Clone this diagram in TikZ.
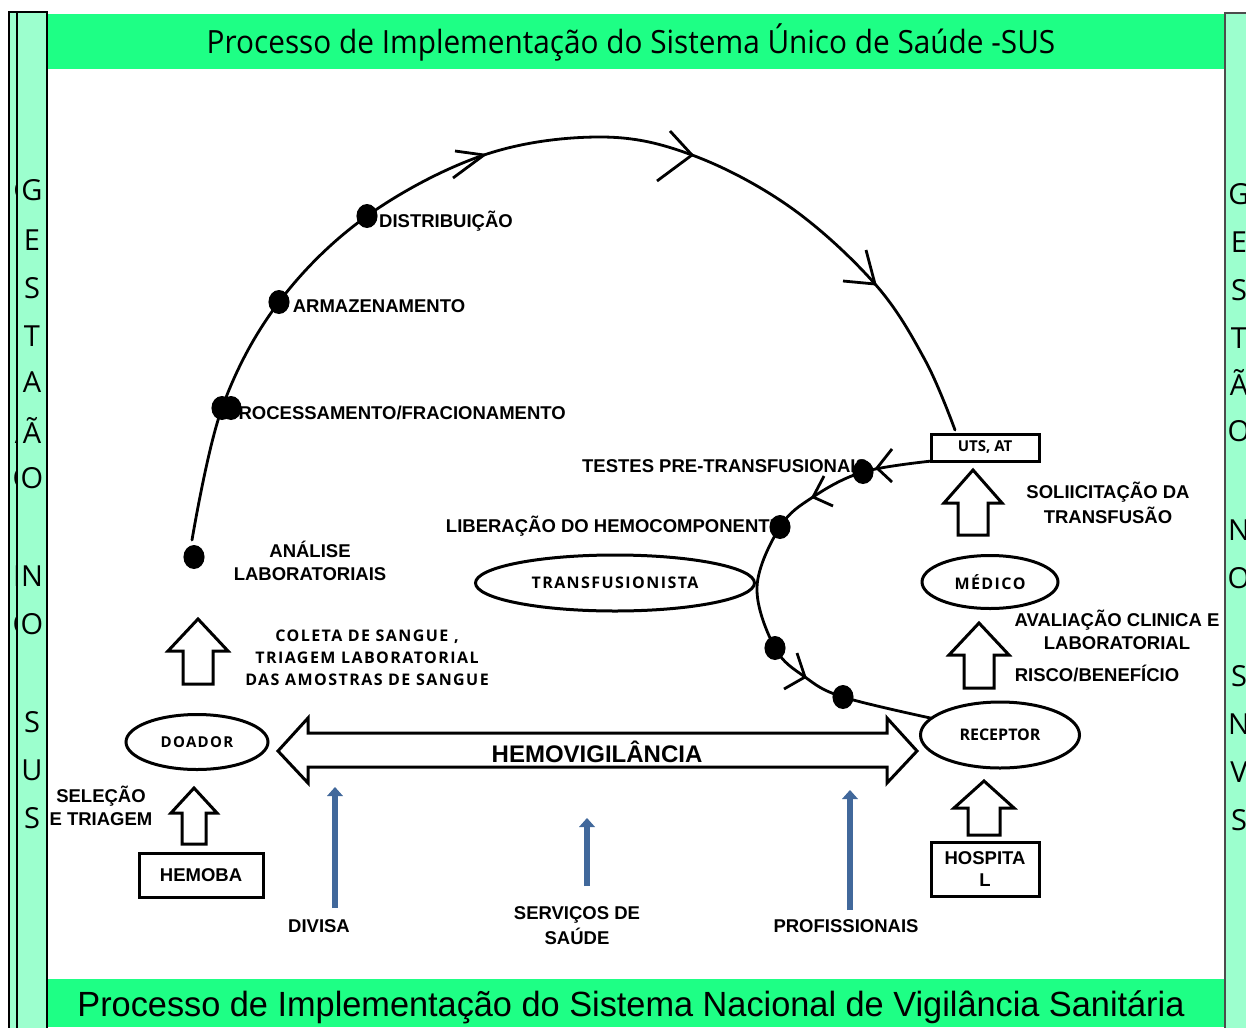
\documentclass[tikz,border=0pt]{standalone}
\usepackage{fontspec}
\setmainfont{Liberation Sans}
\newfontfamily\opn{Open Sans}
\newfontfamily\spc[LetterSpace=9]{Open Sans}
\usetikzlibrary{calc}
\definecolor{band}{HTML}{1EFF85}
\definecolor{lite}{HTML}{9CFFCE}
\definecolor{steel}{HTML}{41689B}
\newcommand\fs[1]{\fontsize{#1}{#1}\selectfont}
\newcommand\blockup[7]{% name, tip x, tip y, head base y, head half w, shaft half w, bottom y
  \coordinate (#1) at (#2,#3);
  \draw[blockline] (#1) -- ++(#5,#4-#3) -- ++(-#5+#6,0) -- ($(#1)+(#6,#7-#3)$) -- ($(#1)+(-#6,#7-#3)$) -- ($(#1)+(-#6,#4-#3)$) -- ($(#1)+(-#5,#4-#3)$) -- cycle;}
\newcommand\chev[7]{% name, tip, barb1, barb2
  \coordinate (#1) at (#2,#3);\coordinate (#1a) at (#4,#5);\coordinate (#1b) at (#6,#7);
  \draw[curveline] (#1a) -- (#1) -- (#1b);}
\newcommand\bluearrow[3]{% name, x, top, bottom in #3
  \coordinate (#1t) at (#2);\coordinate (#1b) at (#3);
  \draw[line width=6.5pt,steel,line cap=butt] ($(#1b)$) -- ($(#1t)+(0,8)$);
  \fill[steel] (#1t) -- ++(8,9) -- ++(-16,0) -- cycle;}
\tikzset{x=1pt,y=-1pt,
  blockline/.style={draw=black,fill=white,line width=3pt,miter limit=10},
  curveline/.style={draw=black,line width=2.8pt},
  ell/.style={draw=black,fill=white,ellipse,line width=3pt,inner sep=0pt},
  boxn/.style={draw=black,fill=white,rectangle,line width=3pt,inner sep=0pt,align=center},
  lab/.style={inner sep=0pt,align=center,font=\fs{18.5}\bfseries,text=black},
  spaced/.style={inner sep=0pt,align=center,font=\spc\fs{16}\bfseries,text=black},
  dot/.style={circle,fill=black,inner sep=0pt,minimum size=24pt,xscale=.88},
  bar/.style={draw=black,fill=lite,line width=2pt},
  sideletter/.style={inner sep=0pt,font=\opn\fs{29}},
}
\usetikzlibrary{shapes.geometric}
\begin{document}
\begin{tikzpicture}
\useasboundingbox (0,0) rectangle (1246,1027);
\fill[white] (0,0) rectangle (1246,1027);
% side bars
\draw[bar] (9,12) rectangle (17,1040);
\begin{scope}
\clip (9,0) rectangle (17,1027);
\foreach \n/\l/\y in {bg/G/190,ba/Ã/430,bo/O/478,bn/N/576,bp/O/624}
  \node[sideletter] (\n) at (24,\y) {\l};
\end{scope}
\fill[band] (47,14) rectangle (1225,69);
\fill[band] (47,979) rectangle (1225,1027);
\draw[bar] (17,12) rectangle (47,1040);
\foreach \n/\l/\y in {la/G/190,lb/E/240,lc/S/288,ld/T/336,le/A/382,lf/Ã/430,lg/O/478,lh/N/576,li/O/624,lj/S/722,lk/U/770,ll/S/818}
  \node[sideletter] (\n) at (32,\y) {\l};
\draw[draw=black!70,fill=lite,line width=1.5pt] (1225,13) rectangle (1260,1040);
\foreach \n/\l/\y in {ra/G/194,rb/E/242,rc/S/290,rd/T/338,re/Ã/382,rf/O/431,rg/N/530,rh/O/578,ri/S/676,rj/N/724,rk/V/772,rl/S/820}
  \node[sideletter] (\n) at (1239,\y) {\l};
% titles
\node[inner sep=0pt,font=\opn\fs{32},xscale=.93] (toptitle) at (631,42) {Processo de Implementação do Sistema Único de Saúde -SUS};
\node[inner sep=0pt,font=\fs{35},xscale=.98] (bottitle) at (631,1007) {Processo de Implementação do Sistema Nacional de Vigilância Sanitária};
% large curve
\coordinate (m0) at (192,540);
\coordinate (m9) at (955,430);
\draw[curveline,line cap=round] plot[smooth,tension=.6] coordinates {(m0) (222,408) (279,302) (367,216) (484,155) (600,137) (692,155) (790,207) (875,284) (925,360) (m9)};
\chev{ca}{484}{155}{455}{151}{453}{178}
\chev{cb}{692}{155}{670}{131}{657}{181}
\chev{cc}{875}{284}{866}{250}{843}{281}
% boxes and ellipses
\node[boxn,minimum width=108pt,minimum height=27pt] (uts) at (985,447.5) {\opn\fs{15}\bfseries UTS, AT};
\coordinate (s0) at (932,461);
\coordinate (s9) at (935,719);
\draw[curveline] plot[smooth,tension=.6] coordinates {(s0) (863,472) (813,497) (780,527) (757,587) (775,648) (805,677) (843,697) (s9)};
\chev{cd}{877}{468}{892}{449}{892}{482}
\chev{ce}{813}{497}{824}{476}{833}{506}
\chev{cf}{805}{677}{797}{653}{784}{689}
\node[ell,minimum width=279pt,minimum height=56pt] (transf) at (615,583) {\spc\fs{16}\bfseries TRANSFUSIONISTA};
\node[ell,minimum width=136pt,minimum height=53pt] (medico) at (990,582) {\spc\fs{16}\bfseries MÉDICO};
\node[ell,minimum width=159pt,minimum height=66pt] (receptor) at (1000,735) {\opn\fs{16}\bfseries RECEPTOR};
\node[ell,minimum width=142pt,minimum height=55pt] (doador) at (197,742) {\spc\fs{15}\bfseries DOADOR};
\node[boxn,minimum width=124pt,minimum height=44pt,font=\fs{18.5}\bfseries] (hemoba) at (201,875) {HEMOBA};
\node[boxn,minimum width=108pt,minimum height=54pt,font=\fs{18.5}\bfseries] (hospital) at (985,869) {HOSPITA\\[4pt]L};
% dots
\foreach \n/\p in {d1/{194,557},d2/{222,408},d3/{231,408},d4/{279,302},d5/{367,216},d6/{863,472},d7/{780,527},d8/{775,648},d9/{843,697}}
  \node[dot] (\n) at (\p) {};
% block arrows
\blockup{a1}{198}{619}{651}{30}{15}{684}
\blockup{a2}{194}{788}{813}{23}{12}{844}
\blockup{a3}{973}{470}{503}{29}{15}{535}
\blockup{a4}{979}{623}{655}{30}{15}{688}
\blockup{a5}{984}{781}{808}{30}{16}{835}
% double arrow
\coordinate (hl) at (278,751);
\coordinate (hr) at (917,751);
\draw[blockline] (hl) -- (308,718) -- (308,733) -- (887,733) -- (887,718) -- (hr) -- (887,783) -- (887,767) -- (308,767) -- (308,783) -- cycle;
\node[inner sep=0pt,font=\fs{24}\bfseries] (hemov) at (597,752) {HEMOVIGILÂNCIA};
% blue arrows
\bluearrow{b1}{335,787}{335,908}
\bluearrow{b2}{587,818}{587,886}
\bluearrow{b3}{850,790}{850,910}
% labels
\node[lab] (l1) at (446,221) {DISTRIBUIÇÃO};
\node[lab] (l2) at (379,306) {ARMAZENAMENTO};
\node[lab] (l3) at (396,413) {PROCESSAMENTO/FRACIONAMENTO};
\node[lab] (l4) at (310,561) {ANÁLISE\\[4pt]LABORATORIAIS};
\node[spaced] (l5) at (367,658) {COLETA DE SANGUE ,\\[6pt]TRIAGEM LABORATORIAL\\[6pt]DAS AMOSTRAS DE SANGUE};
\node[lab] (l6) at (725,466) {TESTES PRE-TRANSFUSIONAIS};
\node[lab] (l7) at (614,526) {LIBERAÇÃO DO HEMOCOMPONENTE};
\node[lab] (l8) at (1108,503) {SOLIICITAÇÃO DA\\[4pt]TRANSFUSÃO};
\node[lab] (l9) at (1117,630) {AVALIAÇÃO CLINICA E\\[4pt]LABORATORIAL};
\node[lab] (l10) at (1097,673) {RISCO/BENEFÍCIO};
\node[lab] (l11) at (101,806) {SELEÇÃO\\[4pt]E TRIAGEM};
\node[lab] (l12) at (319,926) {DIVISA};
\node[lab] (l13) at (577,926) {SERVIÇOS DE\\[4pt]SAÚDE};
\node[lab] (l14) at (846,926) {PROFISSIONAIS};
\end{tikzpicture}
\end{document}
